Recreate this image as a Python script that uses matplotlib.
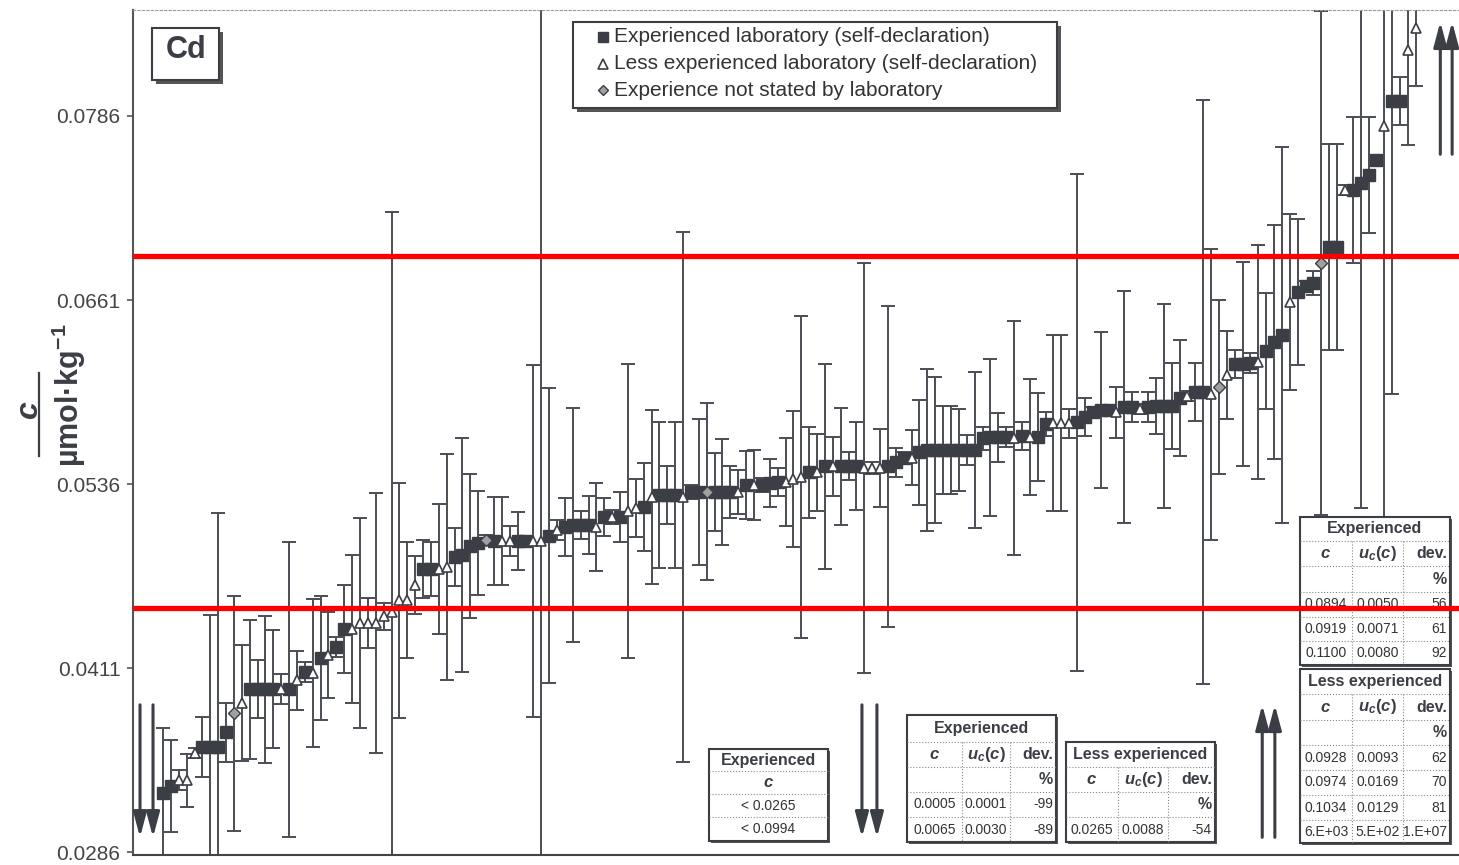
import numpy as np
import matplotlib.pyplot as plt
from matplotlib.patches import Rectangle
from matplotlib.lines import Line2D
from matplotlib.transforms import Affine2D

plt.rcParams['font.family'] = ['Liberation Sans', 'DejaVu Sans']
plt.rcParams['mathtext.fontset'] = 'custom'
plt.rcParams['mathtext.rm'] = 'Liberation Sans'
plt.rcParams['mathtext.it'] = 'Liberation Sans:italic'
plt.rcParams['mathtext.bf'] = 'Liberation Sans:bold'
if 'mathtext.bfit' in plt.rcParams:
    plt.rcParams['mathtext.bfit'] = 'Liberation Sans:italic:bold'

# lab results, sorted (S = experienced, T = less experienced, D = not stated)
kind = list("SSTTTSSSSD" "TSSSSTSTST" "STSSTTTTTT" "TTTSSTTSSS"
            "SDSTTSSTTS" "TSSSSTSTST" "TSTSSSTSSD" "SSSTSTSSST"
            "TTSTSTSSST" "TTSSSTSSSS" "SSSSSSSSTS" "TSSTTTSSSS"
            "STSSTSSSSS" "TSSTDTSSST" "SSSTSSSDSS" "TSSSSTSSTT")
conc = [0.03261, 0.03308, 0.03349, 0.03349, 0.03533, 0.03573, 0.03573, 0.03573, 0.03675, 0.03804,
        0.03872, 0.03967, 0.03967, 0.03967, 0.03967, 0.03967, 0.03967, 0.04028, 0.04083, 0.04076,
        0.04178, 0.04198, 0.04253, 0.04375, 0.04375, 0.04416, 0.04416, 0.04416, 0.04463, 0.04490,
        0.04572, 0.04572, 0.04674, 0.04783, 0.04783, 0.04783, 0.04796, 0.04864, 0.04878, 0.04939,
        0.04959, 0.04979, 0.04973, 0.04973, 0.04973, 0.04973, 0.04973, 0.04973, 0.04973, 0.05007,
        0.05047, 0.05068, 0.05081, 0.05081, 0.05081, 0.05068, 0.05136, 0.05136, 0.05136, 0.05177,
        0.05197, 0.05204, 0.05272, 0.05285, 0.05285, 0.05285, 0.05272, 0.05306, 0.05306, 0.05306,
        0.05306, 0.05306, 0.05306, 0.05306, 0.05353, 0.05353, 0.05353, 0.05367, 0.05374, 0.05374,
        0.05394, 0.05408, 0.05441, 0.05441, 0.05482, 0.05482, 0.05482, 0.05482, 0.05482, 0.05469,
        0.05469, 0.05469, 0.05482, 0.05509, 0.05537, 0.05537, 0.05577, 0.05591, 0.05591, 0.05591,
        0.05591, 0.05591, 0.05591, 0.05591, 0.05672, 0.05679, 0.05679, 0.05679, 0.05672, 0.05686,
        0.05679, 0.05679, 0.05768, 0.05774, 0.05774, 0.05774, 0.05781, 0.05815, 0.05849, 0.05863,
        0.05863, 0.05849, 0.05883, 0.05883, 0.05869, 0.05883, 0.05890, 0.05890, 0.05890, 0.05944,
        0.05958, 0.05985, 0.05985, 0.05971, 0.06019, 0.06100, 0.06175, 0.06175, 0.06182, 0.06189,
        0.06264, 0.06325, 0.06372, 0.06596, 0.06664, 0.06705, 0.06725, 0.06861, 0.06970, 0.06970,
        0.07357, 0.07357, 0.07405, 0.07459, 0.07561, 0.07792, 0.07962, 0.07962, 0.08308, 0.08458]
unc = [0.00442, 0.00313, 0.00068, 0.00180, 0.00034, 0.00204, 0.00897, 0.01590, 0.00200, 0.00798,
       0.00394, 0.00472, 0.00197, 0.00499, 0.00401, 0.00102, 0.01002, 0.00200, 0.00068, 0.00503,
       0.00418, 0.00292, 0.00068, 0.00299, 0.00503, 0.00713, 0.00170, 0.00883, 0.00092, 0.02717,
       0.00798, 0.00397, 0.00194, 0.00197, 0.00183, 0.00442, 0.00768, 0.00200, 0.00798, 0.00489,
       0.00353, 0.00034, 0.00299, 0.00299, 0.00099, 0.00194, 0.00034, 0.01196, 0.03804, 0.01002,
       0.00068, 0.00197, 0.00795, 0.00095, 0.00197, 0.00296, 0.00126, 0.00048, 0.00170, 0.00999,
       0.00197, 0.00299, 0.00594, 0.00496, 0.00197, 0.00496, 0.01797, 0.00048, 0.00499, 0.00601,
       0.00262, 0.00357, 0.00177, 0.00149, 0.00228, 0.00238, 0.00048, 0.00160, 0.00092, 0.00299,
       0.00465, 0.01094, 0.00309, 0.00262, 0.00696, 0.00200, 0.00397, 0.00095, 0.00299, 0.01393,
       0.00041, 0.00268, 0.01090, 0.00099, 0.00041, 0.00187, 0.00357, 0.00547, 0.00499, 0.00299,
       0.00299, 0.00279, 0.00099, 0.00527, 0.00078, 0.00533, 0.00166, 0.00065, 0.00795, 0.00092,
       0.00394, 0.00296, 0.00082, 0.00598, 0.00598, 0.00099, 0.01688, 0.00129, 0.00034, 0.00527,
       0.00034, 0.00173, 0.00791, 0.00099, 0.00034, 0.00099, 0.00187, 0.00690, 0.00292, 0.00394,
       0.00034, 0.00197, 0.01984, 0.00988, 0.00594, 0.00299, 0.00095, 0.00693, 0.00065, 0.00798,
       0.00394, 0.00795, 0.01277, 0.00598, 0.00496, 0.00034, 0.00082, 0.01709, 0.00700, 0.00700,
       0.00034, 0.00496, 0.02208, 0.00397, 0.00034, 0.02656, 0.01991, 0.00160, 0.00645, 0.00394]

y_ticks = [0.0286, 0.0411, 0.0536, 0.0661, 0.0786]
limits = [0.0452, 0.0691]
legend_labels = ["Experienced laboratory (self-declaration)",
                 "Less experienced laboratory (self-declaration)",
                 "Experience not stated by laboratory"]

# off-scale results, listed in the boxes
tab_a_head = "Experienced"
tab_a_rows = [["$\\mathbfit{c}$"], ["< 0.0265"], ["< 0.0994"]]
tab_b_head = "Experienced"
tab_b_rows = [["0.0005", "0.0001", "-99"], ["0.0065", "0.0030", "-89"]]
tab_c_head = "Less experienced"
tab_c_rows = [["0.0265", "0.0088", "-54"]]
tab_d_head = "Experienced"
tab_d_rows = [["0.0894", "0.0050", "56"], ["0.0919", "0.0071", "61"], ["0.1100", "0.0080", "92"]]
tab_e_head = "Less experienced"
tab_e_rows = [["0.0928", "0.0093", "62"], ["0.0974", "0.0169", "70"],
              ["0.1034", "0.0129", "81"], ["6.E+03", "5.E+02", "1.E+07"]]
col_heads = [["$\\mathbfit{c}$", "$\\mathbfit{u}_{\\mathbfit{c}}\\mathbf{(}\\mathbfit{c}\\mathbf{)}$", "dev."],
             ["", "", "%"]]

dark = '#3c3e46'
W, H = 1459, 865
fig = plt.figure(figsize=(W / 100, H / 100), dpi=100)
ax = fig.add_axes([133 / W, 10 / H, 1 - 133 / W, 845 / H])
pix = Affine2D().scale(1 / W, -1 / H).translate(0, 1) + fig.transFigure

pos = np.arange(1, len(conc) + 1)
conc = np.array(conc)
unc = np.array(unc)
kind = np.array(kind)

ax.errorbar(pos, conc, yerr=unc, fmt='none', ecolor='#4b4d55', elinewidth=1.4,
            capsize=5, capthick=1.4, zorder=2)
m = kind == 'S'
ax.plot(pos[m], conc[m], 's', ms=8.2, color=dark, mec=dark, zorder=3)
m = kind == 'T'
ax.plot(pos[m], conc[m], '^', ms=7.3, mfc='white', mec=dark, mew=1.2, zorder=3)
m = kind == 'D'
ax.plot(pos[m], conc[m], 'D', ms=6.2, mfc='#a0a0a0', mec=dark, mew=1.0, zorder=3)

for v in limits:
    ax.axhline(v, color='#ff0000', lw=3.8, zorder=9)

# arrows for results off the scale
def arrow(x, y0, y1):
    ax.annotate('', xy=(x, y1), xytext=(x, y0),
                arrowprops=dict(arrowstyle='-|>,head_length=0.75,head_width=0.2',
                                lw=2.2, color=dark, mutation_scale=20,
                                shrinkA=0, shrinkB=0), zorder=4)

for x in (-1.92, -0.27, 89.7, 91.6):
    arrow(x, 0.0386, 0.0296)
for x in (140.5, 142.1):
    arrow(x, 0.0296, 0.0386)
for x in (163.1, 164.6):
    arrow(x, 0.0760, 0.0850)

ax.set_xlim(-2.81, 165.47)
ax.set_ylim(0.02840, 0.08580)
ax.set_yticks(y_ticks)
ax.set_yticklabels([f"{t:.4f}" for t in y_ticks])
ax.set_xticks([])
ax.tick_params(axis='y', length=4.5, width=1.2, color='#555555', labelcolor='#444444',
               labelsize=15, pad=4.5)
ax.spines['right'].set_visible(False)
ax.spines['top'].set_linestyle((0, (2, 2)))
ax.spines['top'].set_color('#999999')
ax.spines['left'].set_color('#555555')
ax.spines['left'].set_linewidth(1.5)
ax.spines['bottom'].set_color('#444444')
ax.spines['bottom'].set_linewidth(1.5)

# y label as a fraction c / (umol kg-1)
fig.text(30 / W, 1 - 410 / H, "$\\mathbfit{c}$", rotation=90, fontsize=23,
         color=dark, ha='center', va='center')
fig.add_artist(Line2D([39 / W, 39 / W], [1 - 373 / H, 1 - 456 / H], color=dark, lw=1.6))
fig.text(69 / W, 1 - 395 / H, "µmol·kg$^{\\mathbf{-1}}$", rotation=90, fontsize=22,
         fontweight='bold', color=dark, ha='center', va='center')


def box(x0, y0, w, h, shadow=0, z=6):
    if shadow:
        ax.add_patch(Rectangle((x0 + shadow, y0 + shadow), w, h, transform=pix,
                               facecolor='#555555', edgecolor='none', zorder=z - 0.5))
    ax.add_patch(Rectangle((x0, y0), w, h, transform=pix, facecolor='white',
                           edgecolor=dark, lw=1.5, zorder=z))


# "Cd" tag and legend
box(152, 28, 67, 52, shadow=4)
ax.text(186, 50, "Cd", transform=pix, fontsize=22, fontweight='bold', color=dark,
        ha='center', va='center', zorder=7)
box(573, 22, 484, 86, shadow=4)
for i, (lab, mk) in enumerate(zip(legend_labels, ['s', '^', 'D'])):
    yy = 37 + i * 26.5
    if mk == 's':
        ax.plot([603], [yy], mk, ms=7, color=dark, transform=pix, zorder=7)
    elif mk == '^':
        ax.plot([603], [yy], mk, ms=7, mfc='white', mec=dark, mew=1.2, transform=pix, zorder=7)
    else:
        ax.plot([603], [yy], mk, ms=5.5, mfc='#a0a0a0', mec=dark, mew=1.0, transform=pix, zorder=7)
    ax.text(614, yy, lab, transform=pix, fontsize=15, color='#333333', va='center', zorder=7)


def table(xe, ye, head, rows):
    box(xe[0], ye[0], xe[-1] - xe[0], ye[-1] - ye[0], shadow=2)
    for y in ye[1:-1]:
        ax.plot([xe[0], xe[-1]], [y, y], color='#888888', lw=0.8, ls=':', transform=pix, zorder=6.2)
    for x in xe[1:-1]:
        ax.plot([x, x], [ye[1], ye[-1]], color='#888888', lw=0.8, ls=':', transform=pix, zorder=6.2)
    ax.text((xe[0] + xe[-1]) / 2, (ye[0] + ye[1]) / 2, head, transform=pix, fontsize=11.5,
            fontweight='bold', color=dark, ha='center', va='center', zorder=7)
    for r, row in enumerate(rows):
        yc = (ye[r + 1] + ye[r + 2]) / 2
        for c, txt in enumerate(row):
            bold = txt in ("dev.", "%")
            if len(row) > 1 and c == len(row) - 1 and not bold:
                ax.text(xe[c + 1] - 3, yc, txt, transform=pix, fontsize=10, color='#333333',
                        ha='right', va='center', zorder=7)
            elif bold:
                ax.text(xe[c + 1] - 3, yc, txt, transform=pix, fontsize=11.5, fontweight='bold',
                        color=dark, ha='right', va='center', zorder=7)
            else:
                fs = 12 if txt.startswith('$') else 10
                ax.text((xe[c] + xe[c + 1]) / 2, yc, txt, transform=pix, fontsize=fs,
                        color='#333333' if fs == 10 else dark, ha='center', va='center', zorder=7)


table([709, 828], [749, 771, 794, 817, 841], tab_a_head, tab_a_rows)
table([907, 962, 1010, 1056], [715, 742, 767, 792, 817, 842], tab_b_head, col_heads + tab_b_rows)
table([1066, 1118, 1168, 1215], [742, 767, 792, 817, 842], tab_c_head, col_heads + tab_c_rows)
table([1300, 1352, 1403, 1450], [517, 541, 566, 592, 617, 641, 665], tab_d_head, col_heads + tab_d_rows)
table([1300, 1352, 1403, 1450], [669, 694, 720, 745, 770, 795, 820, 843], tab_e_head, col_heads + tab_e_rows)

ax.set_xlim(-2.81, 165.47)
ax.set_ylim(0.02840, 0.08580)

fig.savefig("out.png", dpi=100, facecolor='white')
